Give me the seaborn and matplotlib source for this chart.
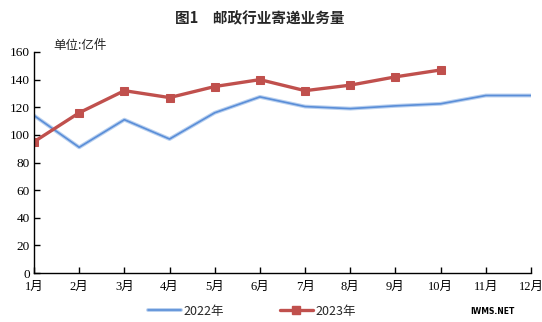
import matplotlib
matplotlib.use("Agg")
import matplotlib.pyplot as plt
import matplotlib.patheffects as pe
from matplotlib.lines import Line2D
import seaborn as sns
import pandas as pd

months = ["1月", "2月", "3月", "4月", "5月", "6月", "7月", "8月", "9月", "10月", "11月", "12月"]
y2022 = [114, 91, 111, 97, 116, 127.5, 120.5, 119, 121, 122.5, 128.5, 128.5]
y2023 = [95, 116, 132, 127, 135, 140, 132, 136, 142, 147]
yticks = [0, 20, 40, 60, 80, 100, 120, 140, 160]

sns.set_theme(style="white")
plt.rcParams['font.family'] = ['Liberation Serif', 'Noto Sans CJK SC', 'DejaVu Sans']

fig = plt.figure(figsize=(5.42, 3.22), dpi=100)
ax = fig.add_axes([34/542, 1-273/322, (531-34)/542, (273-52)/322])

df22 = pd.DataFrame({"m": range(len(y2022)), "v": y2022})
df23 = pd.DataFrame({"m": range(len(y2023)), "v": y2023})

blue = "#5A8ED8"
red = "#C0504D"
halo = [pe.Stroke(linewidth=2.8, foreground="#B9D0EF"), pe.Normal()]
sns.lineplot(data=df22, x="m", y="v", ax=ax, color=blue, lw=1.2, path_effects=halo)
sns.lineplot(data=df23, x="m", y="v", ax=ax, color=red, lw=2.4, marker="s",
             markersize=6, markeredgecolor=red)

ax.set_xlim(0, 11)
ax.set_ylim(0, 160)
ax.set_xticks(range(12))
ax.set_xticklabels(months)
ax.set_yticks(yticks)
ax.set_xlabel("")
ax.set_ylabel("")
for s in ["top", "right"]:
    ax.spines[s].set_visible(False)
for s in ["left", "bottom"]:
    ax.spines[s].set_color("black")
    ax.spines[s].set_linewidth(1.0)
ax.tick_params(axis="both", direction="in", length=4, width=1.0, colors="black",
               labelsize=9.5, left=True, bottom=True)
ax.tick_params(axis="x", pad=6, labelsize=9)
ax.tick_params(axis="y", pad=3)

fig.text(260/542, 1-18/322, "图1　邮政行业寄递业务量", ha="center", va="center",
         fontsize=10.5, fontweight="bold", family=["Noto Sans CJK SC", "DejaVu Sans"])
fig.text(53/542, 1-46/322, "单位:亿件", ha="left", va="center", fontsize=9,
         family=["Noto Sans CJK SC", "DejaVu Sans"])

h1 = Line2D([], [], color=blue, lw=1.2, path_effects=halo)
h2 = Line2D([], [], color=red, lw=2.4, marker="s", markersize=6)
leg = fig.legend([h1, h2], ["2022年", "2023年"], loc="center", bbox_to_anchor=(252/542, 1-311/322),
                 ncol=2, frameon=False, handlelength=2.6, handletextpad=0.2, columnspacing=4.5,
                 prop={"family": ["Noto Sans CJK SC", "DejaVu Sans"], "size": 9})

fig.text(492/542, 1-311/322, "IWMS.NET", ha="center", va="center", fontsize=5.5,
         fontweight="bold", family="DejaVu Sans", color="black")

fig.savefig("out.png", dpi=100)
